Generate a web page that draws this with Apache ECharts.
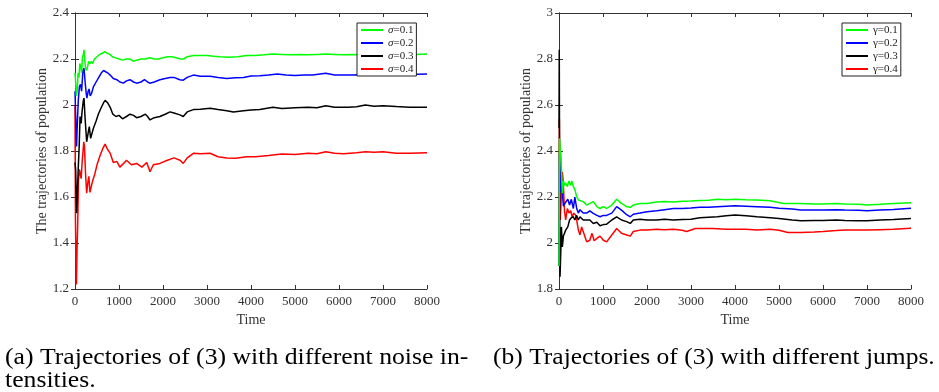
<!DOCTYPE html>
<html>
<head>
<meta charset="utf-8">
<script src="https://cdn.jsdelivr.net/npm/echarts@6/dist/echarts.min.js"></script>
<style>
  html, body { margin: 0; padding: 0; background: #fff; }
  #main { width: 939px; height: 392px; }
</style>
</head>
<body>
<div id="main"></div>
<script>
// panel (a): different noise intensities  [time, population]
const sigma01 = [[0,2.14],[15,2.10],[30,2.04],[50,2.06],[70,2.14],[90,2.12],[110,2.18],[130,2.17],[150,2.14],[170,2.21],[190,2.22],[205,2.24],[220,2.20],[240,2.16],[265,2.15],[290,2.17],[310,2.19],[340,2.18],[370,2.19],[400,2.18],[440,2.20],[500,2.21],[560,2.22],[620,2.225],[680,2.232],[730,2.225],[790,2.22],[850,2.21],[920,2.205],[1000,2.20],[1080,2.195],[1170,2.20],[1250,2.20],[1330,2.19],[1400,2.195],[1500,2.20],[1600,2.20],[1700,2.205],[1800,2.20],[1900,2.20],[2000,2.205],[2100,2.21],[2200,2.21],[2300,2.205],[2400,2.20],[2470,2.20],[2550,2.21],[2700,2.215],[2850,2.215],[3000,2.215],[3150,2.212],[3300,2.21],[3500,2.208],[3700,2.21],[3900,2.215],[4100,2.215],[4300,2.218],[4500,2.222],[4700,2.22],[4900,2.218],[5100,2.22],[5300,2.218],[5500,2.22],[5700,2.222],[5900,2.22],[6100,2.218],[6300,2.22],[6500,2.218],[6700,2.22],[6900,2.222],[7100,2.22],[7300,2.218],[7500,2.22],[7700,2.22],[8000,2.222]];
const sigma02 = [[0,2.06],[15,1.95],[35,1.82],[55,1.93],[75,2.02],[100,2.08],[125,2.09],[150,2.06],[180,2.15],[205,2.16],[230,2.10],[255,2.05],[270,2.03],[300,2.06],[320,2.07],[345,2.04],[375,2.05],[420,2.08],[480,2.10],[540,2.12],[600,2.14],[650,2.15],[690,2.153],[740,2.14],[800,2.13],[870,2.115],[950,2.11],[1020,2.10],[1100,2.095],[1170,2.105],[1250,2.11],[1330,2.10],[1400,2.095],[1500,2.10],[1580,2.11],[1650,2.10],[1700,2.095],[1800,2.10],[1930,2.11],[2050,2.115],[2160,2.12],[2250,2.12],[2380,2.11],[2460,2.108],[2550,2.12],[2690,2.13],[2850,2.125],[3070,2.125],[3250,2.12],[3450,2.115],[3650,2.118],[3830,2.12],[4000,2.126],[4200,2.127],[4400,2.13],[4600,2.135],[4800,2.13],[5000,2.128],[5200,2.13],[5400,2.13],[5700,2.138],[5900,2.13],[6100,2.13],[6300,2.13],[6500,2.132],[6700,2.13],[7000,2.135],[7300,2.132],[7600,2.133],[8000,2.135]];
const sigma03 = [[0,1.75],[15,1.72],[38,1.53],[55,1.62],[75,1.73],[95,1.82],[115,1.95],[140,1.92],[160,1.97],[190,2.02],[205,2.03],[230,1.94],[265,1.84],[300,1.88],[325,1.906],[355,1.855],[380,1.86],[420,1.90],[480,1.93],[530,1.96],[600,1.99],[650,2.01],[685,2.02],[740,2.01],[800,1.99],[860,1.96],[930,1.95],[1000,1.955],[1080,1.94],[1170,1.95],[1250,1.96],[1330,1.955],[1400,1.945],[1500,1.95],[1600,1.96],[1650,1.95],[1705,1.935],[1800,1.945],[1930,1.95],[2050,1.96],[2160,1.97],[2250,1.965],[2386,1.957],[2460,1.95],[2550,1.97],[2690,1.98],[2850,1.982],[3070,1.986],[3250,1.98],[3450,1.975],[3600,1.97],[3830,1.975],[4000,1.978],[4200,1.98],[4500,1.99],[4700,1.985],[5000,1.988],[5300,1.99],[5500,1.988],[5700,1.997],[5900,1.99],[6200,1.99],[6400,1.992],[6600,2.0],[6800,1.995],[7000,1.997],[7300,1.993],[7600,1.99],[8000,1.99]];
const sigma04 = [[0,2.0],[10,1.50],[20,1.36],[32,1.22],[45,1.36],[60,1.47],[80,1.67],[100,1.72],[120,1.70],[140,1.68],[165,1.76],[200,1.84],[215,1.82],[240,1.70],[265,1.617],[290,1.66],[315,1.69],[340,1.62],[360,1.617],[400,1.67],[450,1.70],[500,1.74],[570,1.78],[630,1.81],[685,1.83],[730,1.81],[800,1.79],[870,1.75],[950,1.755],[1020,1.73],[1100,1.745],[1170,1.76],[1280,1.74],[1400,1.746],[1520,1.73],[1630,1.75],[1705,1.71],[1780,1.74],[1930,1.746],[2100,1.76],[2250,1.77],[2386,1.76],[2460,1.746],[2550,1.77],[2690,1.79],[2850,1.788],[3070,1.79],[3250,1.775],[3450,1.77],[3650,1.768],[3900,1.775],[4100,1.775],[4400,1.78],[4700,1.787],[5000,1.785],[5300,1.79],[5500,1.788],[5700,1.797],[5900,1.79],[6100,1.788],[6400,1.792],[6600,1.797],[6800,1.795],[7000,1.797],[7300,1.79],[7600,1.79],[8000,1.792]];

// panel (b): different jumps
const gamma01 = [[0,1.90],[12,2.455],[30,2.40],[45,2.38],[60,2.30],[76,2.216],[100,2.27],[130,2.25],[152,2.26],[190,2.245],[227,2.27],[260,2.25],[290,2.27],[326,2.245],[365,2.23],[402,2.20],[440,2.187],[477,2.187],[550,2.18],[629,2.165],[700,2.172],[780,2.18],[860,2.158],[932,2.15],[1008,2.158],[1083,2.15],[1200,2.165],[1311,2.19],[1420,2.172],[1538,2.158],[1620,2.155],[1689,2.165],[1841,2.172],[2000,2.172],[2220,2.178],[2400,2.18],[2600,2.178],[2800,2.182],[3000,2.183],[3200,2.185],[3400,2.186],[3600,2.19],[3800,2.188],[4000,2.19],[4250,2.188],[4500,2.187],[4800,2.184],[5100,2.172],[5300,2.172],[5500,2.172],[5800,2.17],[6000,2.17],[6300,2.172],[6500,2.17],[6800,2.168],[7000,2.165],[7300,2.168],[7600,2.172],[8000,2.175]];
const gamma02 = [[0,1.90],[12,2.39],[30,2.30],[45,2.22],[60,2.245],[76,2.22],[100,2.16],[130,2.17],[160,2.18],[200,2.19],[240,2.165],[280,2.19],[326,2.15],[360,2.20],[402,2.15],[440,2.13],[477,2.145],[550,2.13],[629,2.13],[700,2.14],[780,2.129],[860,2.12],[932,2.114],[1008,2.12],[1083,2.12],[1200,2.13],[1311,2.158],[1420,2.143],[1538,2.123],[1620,2.114],[1689,2.125],[1841,2.13],[2000,2.136],[2220,2.14],[2400,2.145],[2600,2.15],[2800,2.15],[3000,2.152],[3200,2.155],[3400,2.155],[3600,2.158],[3800,2.16],[4000,2.162],[4250,2.16],[4500,2.158],[4800,2.155],[5000,2.151],[5300,2.148],[5500,2.143],[5800,2.143],[6000,2.143],[6300,2.145],[6500,2.143],[6800,2.142],[7000,2.14],[7300,2.143],[7600,2.146],[8000,2.151]];
const gamma03 = [[0,2.50],[6,2.84],[14,2.30],[23,1.853],[40,1.955],[55,2.07],[76,1.983],[100,2.03],[130,2.045],[152,2.056],[200,2.07],[240,2.10],[280,2.11],[326,2.114],[360,2.10],[402,2.12],[440,2.10],[477,2.114],[550,2.10],[629,2.10],[700,2.10],[780,2.085],[860,2.09],[932,2.075],[1008,2.08],[1083,2.082],[1200,2.10],[1311,2.114],[1420,2.10],[1538,2.093],[1620,2.085],[1689,2.10],[1841,2.103],[2000,2.10],[2220,2.10],[2400,2.103],[2600,2.10],[2800,2.102],[3000,2.103],[3200,2.11],[3400,2.112],[3600,2.114],[3800,2.118],[4000,2.122],[4250,2.118],[4500,2.114],[4800,2.11],[5000,2.107],[5300,2.10],[5500,2.097],[5800,2.098],[6000,2.098],[6300,2.10],[6500,2.098],[6800,2.097],[7000,2.097],[7300,2.10],[7600,2.102],[8000,2.107]];
const gamma04 = [[0,1.90],[8,2.54],[18,2.245],[30,2.10],[45,2.17],[76,2.31],[95,2.27],[125,2.14],[152,2.10],[190,2.15],[227,2.13],[265,2.14],[300,2.114],[340,2.13],[380,2.12],[402,2.10],[440,2.056],[477,2.035],[515,2.07],[550,2.063],[629,2.005],[700,2.012],[750,2.042],[800,2.01],[860,2.02],[932,2.03],[1008,2.012],[1083,2.005],[1200,2.035],[1311,2.063],[1420,2.042],[1538,2.035],[1620,2.03],[1689,2.05],[1841,2.056],[2000,2.056],[2220,2.06],[2400,2.058],[2600,2.06],[2800,2.055],[2900,2.05],[3100,2.063],[3300,2.063],[3500,2.063],[3800,2.06],[4000,2.06],[4250,2.06],[4500,2.057],[4800,2.06],[5000,2.055],[5200,2.046],[5500,2.046],[5800,2.048],[6000,2.05],[6300,2.054],[6500,2.057],[6800,2.056],[7000,2.056],[7300,2.058],[7600,2.06],[8000,2.064]];

const namesA = ['σ=0.1', 'σ=0.2', 'σ=0.3', 'σ=0.4'];
const namesB = ['γ=0.1', 'γ=0.2', 'γ=0.3', 'γ=0.4'];
const colors = ['#00ff00', '#0000ff', '#000000', '#ff0000'];

const serif = '"Liberation Serif", "Times New Roman", serif';
const axisColor = '#333';

function xAxes(grid) {
  return [
    {
      gridIndex: grid, type: 'value', min: 0, max: 8000, interval: 1000,
      name: 'Time', nameLocation: 'middle', nameGap: 22,
      nameTextStyle: { fontFamily: serif, fontSize: 14, color: axisColor },
      axisLine: { lineStyle: { color: axisColor, width: 1 } },
      axisTick: { inside: true, length: 4, lineStyle: { color: axisColor } },
      axisLabel: { fontFamily: serif, fontSize: 13, color: axisColor, margin: 6, formatter: v => String(v) },
      splitLine: { show: false }
    },
    {
      gridIndex: grid, type: 'value', min: 0, max: 8000, interval: 1000, position: 'top',
      axisLine: { lineStyle: { color: axisColor, width: 1 } },
      axisTick: { inside: true, length: 4, lineStyle: { color: axisColor } },
      axisLabel: { show: false }, splitLine: { show: false }
    }
  ];
}

function yAxes(grid, min, max) {
  return [
    {
      gridIndex: grid, type: 'value', min: min, max: max, interval: 0.2,
      name: 'The trajectories of population', nameLocation: 'middle', nameGap: 26,
      nameTextStyle: { fontFamily: serif, fontSize: 14, color: axisColor },
      axisLine: { show: true, lineStyle: { color: axisColor, width: 1 } },
      axisTick: { show: true, inside: true, length: 4, lineStyle: { color: axisColor } },
      axisLabel: { fontFamily: serif, fontSize: 13, color: axisColor, margin: 6 },
      splitLine: { show: false }
    },
    {
      gridIndex: grid, type: 'value', min: min, max: max, interval: 0.2, position: 'right',
      axisLine: { show: true, lineStyle: { color: axisColor, width: 1 } },
      axisTick: { show: true, inside: true, length: 4, lineStyle: { color: axisColor } },
      axisLabel: { show: false }, splitLine: { show: false }
    }
  ];
}

function makeSeries(names, datas, xi, yi) {
  return names.map((n, i) => ({
    name: n, type: 'line', data: datas[i],
    xAxisIndex: xi, yAxisIndex: yi,
    showSymbol: false, symbol: 'none',
    lineStyle: { color: colors[i], width: 1.5 },
    itemStyle: { color: colors[i] },
    z: 10 - i
  }));
}

function makeLegend(names, left, italic) {
  return {
    data: names, orient: 'vertical', left: left, top: 23, z: 30,
    backgroundColor: '#fff', borderColor: '#222', borderWidth: 1,
    padding: [1, 3, 1, 4], itemGap: 1, itemWidth: 22, itemHeight: 2,
    icon: 'rect',
    formatter: name => '{s|' + name.charAt(0) + '}{t|' + name.slice(1) + '}',
    textStyle: {
      fontFamily: serif, fontSize: 11, color: '#222', lineHeight: 12,
      rich: {
        s: { fontFamily: serif, fontSize: 11, fontStyle: italic ? 'italic' : 'normal', color: '#222', lineHeight: 12 },
        t: { fontFamily: serif, fontSize: 11, color: '#222', lineHeight: 12 }
      }
    }
  };
}

const captionFont = '23px ' + serif;

const chart = echarts.init(document.getElementById('main'));
chart.setOption({
  animation: false,
  grid: [
    { left: 75, top: 13, width: 352, height: 276 },
    { left: 559, top: 13, width: 352, height: 276 }
  ],
  xAxis: xAxes(0).concat(xAxes(1)),
  yAxis: yAxes(0, 1.2, 2.4).concat(yAxes(1, 1.8, 3)),
  legend: [makeLegend(namesA, 357, true), makeLegend(namesB, 842, false)],
  series: makeSeries(namesA, [sigma01, sigma02, sigma03, sigma04], 0, 0)
    .concat(makeSeries(namesB, [gamma01, gamma02, gamma03, gamma04], 2, 2)),
  graphic: [
    { type: 'text', x: 5, y: 346, scaleX: 1.118, style: { text: '(a) Trajectories of (3) with different noise in-', font: captionFont, fill: '#000' } },
    { type: 'text', x: 5, y: 369, scaleX: 1.118, style: { text: 'tensities.', font: captionFont, fill: '#000' } },
    { type: 'text', x: 493, y: 346, scaleX: 1.11, style: { text: '(b) Trajectories of (3) with different jumps.', font: captionFont, fill: '#000' } }
  ]
});
</script>
</body>
</html>
